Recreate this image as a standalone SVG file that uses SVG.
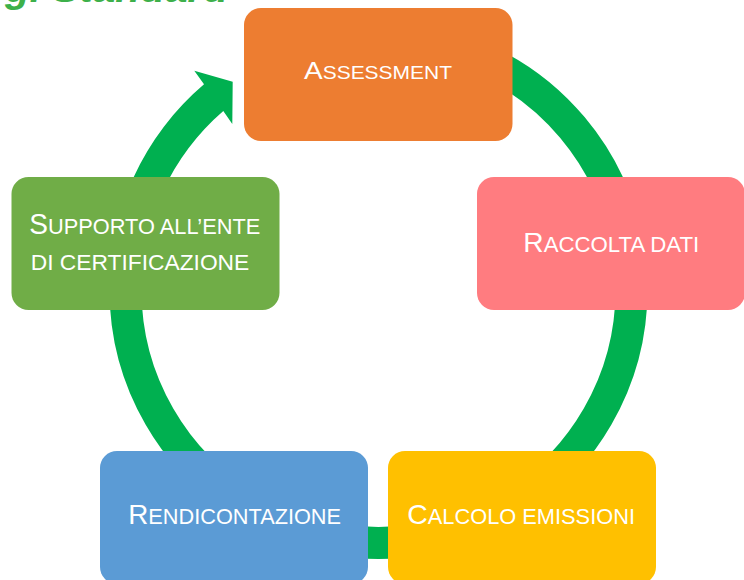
<svg xmlns="http://www.w3.org/2000/svg" width="744" height="580" viewBox="0 0 744 580">
<style>
.ring{fill:none;stroke:#00B050;stroke-width:32;stroke-linecap:butt}
.box{stroke:none}
.lbl{font-family:"Liberation Sans",Arial,sans-serif;fill:#FFFFFF}
.title{font-family:"Liberation Sans",Arial,sans-serif;font-weight:bold;font-style:italic;fill:#3DB04A}
</style>
<rect width="744" height="580" fill="#FFFFFF"/>
<text class="title" x="5" y="1.5" font-size="38" textLength="223" lengthAdjust="spacingAndGlyphs">gi Standard</text>
<g id="connectors">
<path class="ring" d="M465,52.3 A253,253 0 0 1 627.7,246.1"/>
<path class="ring" d="M631.5,290 A253,253 0 0 1 505,509.1"/>
<path class="ring" d="M422.4,539.2 A253,253 0 0 1 334.6,539.2"/>
<path class="ring" d="M252,509.1 A253,253 0 0 1 125.5,290"/>
<path fill="#00B050" d="M109,290 A269.5,269.5 0 0 1 204,84.3 L194.3,70.7 L232.7,81.7 L232.3,124 L223.3,111 A237.5,237.5 0 0 0 141,290 Z"/>
</g>
<g id="assessment">
<rect class="box" x="244" y="8" width="268.5" height="133" rx="17" fill="#ED7D31"/>
<text class="lbl" x="304" y="79.3" textLength="148" lengthAdjust="spacingAndGlyphs"><tspan font-size="24">A</tspan><tspan font-size="18">SSESSMENT</tspan></text>
</g>
<g id="raccolta">
<rect class="box" x="477" y="177" width="268" height="133" rx="17" fill="#FF7C80"/>
<text class="lbl" x="523.3" y="252" textLength="176" lengthAdjust="spacingAndGlyphs"><tspan font-size="28.5">R</tspan><tspan font-size="22.5">ACCOLTA DATI</tspan></text>
</g>
<g id="calcolo">
<rect class="box" x="388" y="451" width="268" height="133" rx="17" fill="#FFC000"/>
<text class="lbl" x="407.3" y="524.3" textLength="227.7" lengthAdjust="spacingAndGlyphs"><tspan font-size="28">C</tspan><tspan font-size="21.5">ALCOLO EMISSIONI</tspan></text>
</g>
<g id="rendicontazione">
<rect class="box" x="100" y="451" width="268" height="133" rx="17" fill="#5B9BD5"/>
<text class="lbl" x="128.3" y="524.3" textLength="212.7" lengthAdjust="spacingAndGlyphs"><tspan font-size="27.5">R</tspan><tspan font-size="21.5">ENDICONTAZIONE</tspan></text>
</g>
<g id="supporto">
<rect class="box" x="11.5" y="177" width="268" height="133" rx="17" fill="#70AD47"/>
<text class="lbl" x="29.3" y="234.3" textLength="231" lengthAdjust="spacingAndGlyphs"><tspan font-size="29">S</tspan><tspan font-size="22.5">UPPORTO ALL’ENTE</tspan></text>
<text class="lbl" x="30.7" y="270" font-size="22.5" textLength="218.6" lengthAdjust="spacingAndGlyphs">DI CERTIFICAZIONE</text>
</g>
</svg>
